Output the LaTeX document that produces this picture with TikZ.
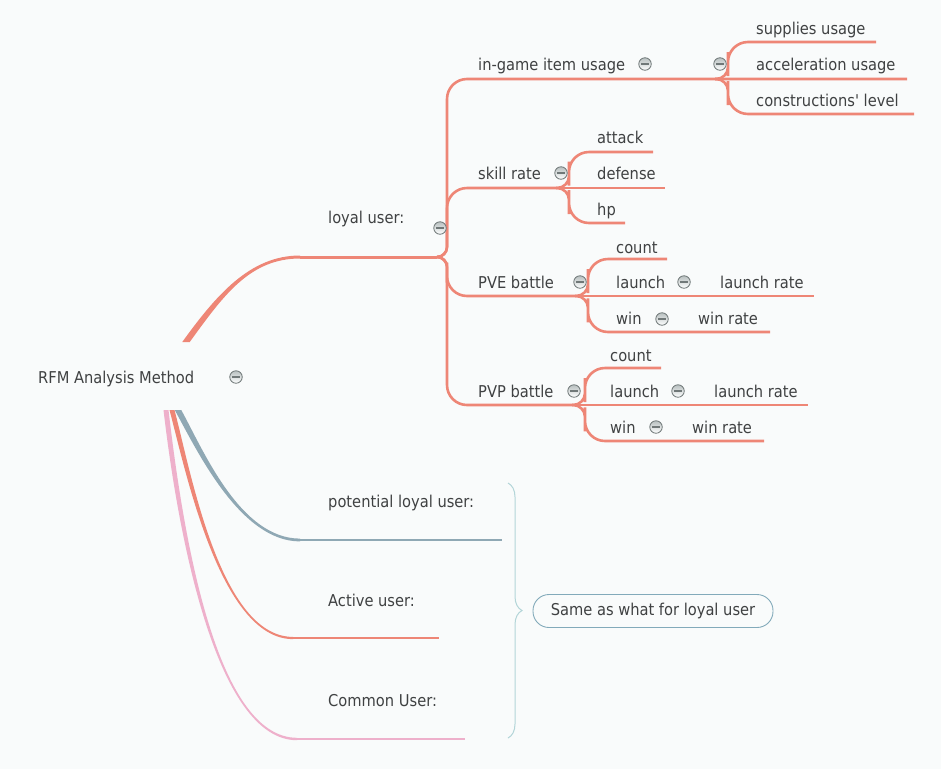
\documentclass[tikz,border=0pt]{standalone}
\usepackage{fontspec}
\setmainfont{DejaVu Sans Condensed}
\usetikzlibrary{calc,decorations.pathreplacing}
\definecolor{bg}{HTML}{F9FBFB}
\definecolor{tx}{HTML}{3F4142}
\definecolor{sal}{HTML}{EE8676}
\definecolor{blu}{HTML}{8FA8B4}
\definecolor{pnk}{HTML}{EEB0CB}
\definecolor{brc}{HTML}{B3D5D8}
\definecolor{boxc}{HTML}{82AABA}
\definecolor{mnd}{HTML}{707878}
\definecolor{mnb}{HTML}{B8C0C0}
\newcommand\taper[7]{%
  \fill[#1] ($(#2)+({#6/2},0)$) .. controls ($#3+({#6/2},0)$) and ($#4+(0,{-1*(#7)/2})$) .. ($(#5)+(0,{-1*(#7)/2})$)
    -- ($(#5)+(0,{(#7)/2})$) .. controls ($#4+(0,{(#7)/2})$) and ($#3+({-#6/2},0)$) .. ($(#2)+({-#6/2},0)$) -- cycle;}
% connector: from fork #1 to end #2, vertical offset #3, first radius #4, second radius #5
\newcommand\conn[5]{%
  \draw[br] let \p1=(#1), \p2=(#2) in [rounded corners=#4pt] (\p1) -- (\x1+#3pt,\y1) -- (\x1+#3pt,{\y1+0.4*(\y2-\y1)})
    [rounded corners=#5pt] -- (\x1+#3pt,\y2) -- (\p2);}
\begin{document}
\begin{tikzpicture}[x=1pt,y=-1pt,
  txt/.style={anchor=base west, inner sep=0pt, text=tx, font=\fontsize{16.3}{19}\selectfont},
  mn/.style={circle, draw=mnd, line width=0.8pt, top color=mnb, bottom color=white, minimum size=12.5pt, inner sep=0pt,
    path picture={\draw[line width=1.1pt, mnd] ([xshift=2.6pt]path picture bounding box.west) -- ([xshift=-2.6pt]path picture bounding box.east);}},
  br/.style={draw=sal, line width=2.6pt}]
\path[fill=bg, use as bounding box] (0,0) rectangle (941,769);

% coordinates
\coordinate (rootL) at (186,342);
\coordinate (loyalA) at (300,257);
\coordinate (loyalF) at (437,257);
\coordinate (igF) at (715,79);
\coordinate (supE) at (876,42);
\coordinate (accE) at (907,79);
\coordinate (conE) at (914,114);
\coordinate (skF) at (556,188);
\coordinate (atE) at (653,152);
\coordinate (defE) at (665,188);
\coordinate (hpE) at (625,223);
\coordinate (pveF) at (575,296);
\coordinate (pvecE) at (667,259);
\coordinate (pvelE) at (814,296);
\coordinate (pvewE) at (770,332);
\coordinate (pvpF) at (572,405);
\coordinate (pvpcE) at (661,368);
\coordinate (pvplE) at (808,405);
\coordinate (pvpwE) at (764,441);
\coordinate (potR) at (178,410);
\coordinate (potA) at (300,540);
\coordinate (potE) at (502,540);
\coordinate (actR) at (172,410);
\coordinate (actA) at (293,638);
\coordinate (actE) at (439,638);
\coordinate (comR) at (166,410);
\coordinate (comA) at (297,739);
\coordinate (comE) at (465,739);
\coordinate (bT) at (508,483);
\coordinate (bB) at (508,738);

% main branches
\taper{pnk}{comR}{(180,530)}{(215,739)}{comA}{5}{2.4}
\draw[pnk, line width=2.4pt] (comA) -- (comE);
\taper{sal}{actR}{(188,470)}{(220,638)}{actA}{5}{2.2}
\draw[sal, line width=2.2pt] (actA) -- (actE);
\taper{blu}{potR}{(200,450)}{(240,540)}{potA}{6.5}{2.8}
\draw[blu, line width=2.8pt] (potA) -- (potE);
\taper{sal}{rootL}{(220,295)}{(250,257)}{loyalA}{7.5}{-3}
\draw[sal, line width=3pt] (loyalA) -- (loyalF);

% loyal subtree
\conn{loyalF}{accE}{10}{10}{20}
\conn{loyalF}{skF}{10}{10}{20}
\conn{loyalF}{pveF}{10}{10}{20}
\conn{loyalF}{pvpF}{10}{10}{20}
\conn{igF}{supE}{13}{12}{20}
\conn{igF}{conE}{13}{12}{20}
\conn{skF}{atE}{13}{12}{20}
\draw[br] (skF) -- (defE);
\conn{skF}{hpE}{13}{12}{20}
\conn{pveF}{pvecE}{13}{12}{20}
\draw[br] (pveF) -- (pvelE);
\conn{pveF}{pvewE}{13}{12}{20}
\conn{pvpF}{pvpcE}{13}{12}{20}
\draw[br] (pvpF) -- (pvplE);
\conn{pvpF}{pvpwE}{13}{12}{20}

% texts
\node[txt] (root) at (38,383) {RFM Analysis Method};
\node[txt] (loyal) at (328,223) {loyal user:};
\node[txt] (ig) at (478,70) {in-game item usage};
\node[txt] (sup) at (756,34) {supplies usage};
\node[txt] (acc) at (756,70) {acceleration usage};
\node[txt] (con) at (756,106) {constructions\textquotesingle{} level};
\node[txt] (sk) at (478,179) {skill rate};
\node[txt] (at) at (597,143) {attack};
\node[txt] (def) at (597,179) {defense};
\node[txt] (hp) at (597,215) {hp};
\node[txt] (pve) at (478,288) {PVE battle};
\node[txt] (pvec) at (616,253) {count};
\node[txt] (pvel) at (616,288) {launch};
\node[txt] (pvelr) at (720,288) {launch rate};
\node[txt] (pvew) at (616,324) {win};
\node[txt] (pvewr) at (698,324) {win rate};
\node[txt] (pvp) at (478,397) {PVP battle};
\node[txt] (pvpc) at (610,361) {count};
\node[txt] (pvpl) at (610,397) {launch};
\node[txt] (pvplr) at (714,397) {launch rate};
\node[txt] (pvpw) at (610,433) {win};
\node[txt] (pvpwr) at (692,433) {win rate};
\node[txt] (pot) at (328,507) {potential loyal user:};
\node[txt] (act) at (328,606) {Active user:};
\node[txt] (com) at (328,706) {Common User:};

% minus buttons
\node[mn] (m0) at (236,377) {};
\node[mn] (m1) at (440,228) {};
\node[mn] (m2) at (645,64) {};
\node[mn] (m3) at (720,64) {};
\node[mn] (m4) at (561,173) {};
\node[mn] (m5) at (580,282) {};
\node[mn] (m6) at (684,282) {};
\node[mn] (m7) at (662,319) {};
\node[mn] (m8) at (574,391) {};
\node[mn] (m9) at (678,391) {};
\node[mn] (m10) at (656,427) {};

% brace and summary
\draw[brc, line width=1pt, decorate, decoration={brace, amplitude=14pt}] (bT) -- (bB);
\node[draw=boxc, line width=0.9pt, fill=bg, rounded corners=16pt, minimum width=240pt, minimum height=33pt, inner sep=0pt,
  text=tx, font=\fontsize{16.3}{19}\selectfont] (same) at (653,611) {Same as what for loyal user};
\end{tikzpicture}
\end{document}
